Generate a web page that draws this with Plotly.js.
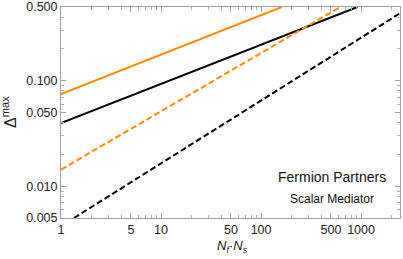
<!DOCTYPE html>
<html><head><meta charset="utf-8">
<script src="https://cdn.plot.ly/plotly-3.0.1.min.js"></script>
<style>html,body{margin:0;padding:0;background:#fff}#plot{width:403px;height:259px}</style>
</head><body><div id="plot"></div>
<script>
// Data (log-log straight lines)
const orangeSolidX = [1, 10, 100, 161];
const orangeSolidY = [0.0746, 0.177, 0.418, 0.5];
const blackSolidX = [1, 10, 100, 919];
const blackSolidY = [0.0398, 0.0935, 0.220, 0.5];
const orangeDashX = [1, 10, 100, 617];
const orangeDashY = [0.01438, 0.0512, 0.182, 0.5];
const blackDashX = [1.35, 10, 100, 1000, 2450];
const blackDashY = [0.005, 0.01648, 0.0649, 0.255, 0.436];

const xTickVals = [1, 5, 10, 50, 100, 500, 1000];
const xTickText = ["1", "5", "10", "50", "100", "500", "1000"];
const yTickVals = [0.005, 0.01, 0.05, 0.1, 0.5];
const yTickText = ["0.005", "0.010", "0.050", "0.100", "0.500"];

const xMinor = [2,3,4,6,7,8,9,20,30,40,60,70,80,90,200,300,400,600,700,800,900,2000];
const yMinor = [0.006,0.007,0.008,0.009,0.02,0.03,0.04,0.06,0.07,0.08,0.09,0.2,0.3,0.4];

const orange = '#FF8A00';
const traces = [
  {x: orangeSolidX, y: orangeSolidY, mode: 'lines', line: {color: orange, width: 2}},
  {x: blackSolidX, y: blackSolidY, mode: 'lines', line: {color: '#000', width: 2}},
  {x: orangeDashX, y: orangeDashY, mode: 'lines', line: {color: orange, width: 2, dash: '6px,3px'}},
  {x: blackDashX, y: blackDashY, mode: 'lines', line: {color: '#000', width: 2, dash: '6px,3px'}}
];

const fontFam = 'Liberation Sans, Arial, sans-serif';
const axisCommon = {
  showgrid: false, zeroline: false, showline: true, linecolor: '#a0a0a0', linewidth: 1,
  mirror: 'ticks', ticks: 'inside', ticklen: 5, tickcolor: '#a0a0a0', tickwidth: 1,
  tickfont: {family: fontFam, size: 12.5, color: '#222'}
};

function px2x(p) { return (p - 61) / 339; }
function px2y(p) { return (218 - p) / 211; }

const layout = {
  width: 403, height: 259,
  margin: {l: 61, r: 3, t: 7, b: 41},
  paper_bgcolor: '#fff', plot_bgcolor: '#fff',
  showlegend: false,
  xaxis: Object.assign({}, axisCommon, {
    type: 'log', range: [0, Math.log10(2450)],
    tickmode: 'array', tickvals: xTickVals, ticktext: xTickText,
    minor: {tickmode: 'array', tickvals: xMinor, ticks: 'inside', ticklen: 3, tickcolor: '#b0b0b0'}
  }),
  yaxis: Object.assign({}, axisCommon, {
    type: 'log', range: [Math.log10(0.005), Math.log10(0.5)],
    tickmode: 'array', tickvals: yTickVals, ticktext: yTickText,
    minor: {tickmode: 'array', tickvals: yMinor, ticks: 'inside', ticklen: 3, tickcolor: '#b0b0b0'}
  }),
  annotations: [
    {xref: 'paper', yref: 'paper', x: px2x(9), y: px2y(112), xanchor: 'center', yanchor: 'middle',
     text: 'Δ<sup>max</sup>', textangle: -90, showarrow: false,
     font: {family: fontFam, size: 16, color: '#222'}},
    {xref: 'paper', yref: 'paper', x: px2x(232), y: px2y(246), xanchor: 'center', yanchor: 'middle',
     text: '<i>N<sub>f</sub></i>·<i>N<sub>s</sub></i>', showarrow: false,
     font: {family: fontFam, size: 13, color: '#222'}},
    {xref: 'paper', yref: 'paper', x: px2x(332), y: px2y(177), xanchor: 'center', yanchor: 'middle',
     text: 'Fermion Partners', showarrow: false,
     font: {family: fontFam, size: 14, color: '#111'}},
    {xref: 'paper', yref: 'paper', x: px2x(332), y: px2y(199), xanchor: 'center', yanchor: 'middle',
     text: 'Scalar Mediator', showarrow: false,
     font: {family: fontFam, size: 12, color: '#111'}}
  ]
};

Plotly.newPlot('plot', traces, layout, {staticPlot: true, displayModeBar: false});
</script></body></html>
